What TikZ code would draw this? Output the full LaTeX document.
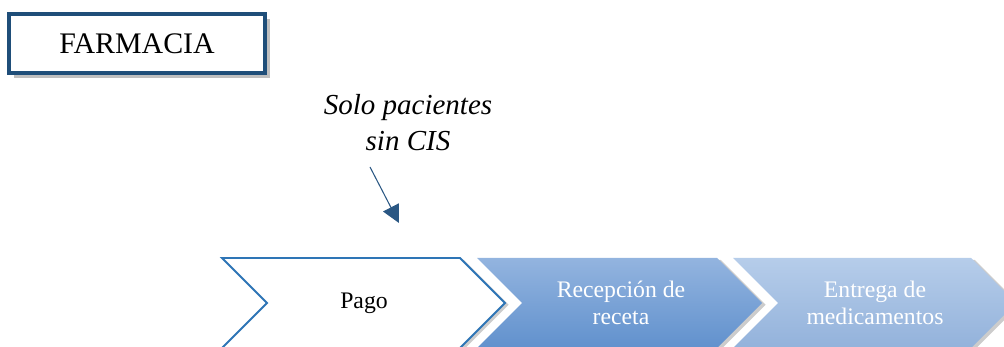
\documentclass[tikz,border=0pt]{standalone}
\usepackage{fontspec}
\setmainfont{Liberation Serif}
\usetikzlibrary{arrows.meta,shadows}
\definecolor{boxblue}{HTML}{1F4E79}
\definecolor{lineblue}{HTML}{2E75B6}
\definecolor{arrblue}{HTML}{2A5783}
\definecolor{ctwoT}{HTML}{93B4DF}
\definecolor{ctwoB}{HTML}{6191CD}
\definecolor{cthrT}{HTML}{B6CDEA}
\definecolor{cthrB}{HTML}{93B2DB}
\tikzset{
  titlebox/.style={draw=boxblue, line width=2.3pt, fill=white, minimum width=256*0.02cm, minimum height=59*0.02cm, inner sep=0pt,
     font=\fontsize{17}{20}\selectfont,
     drop shadow={shadow xshift=3pt, shadow yshift=-3pt, fill=black, opacity=0.25}},
  note/.style={font=\fontsize{16.5}{20.5}\selectfont\itshape, align=center},
  chevtext/.style={font=\fontsize{13.5}{15}\selectfont, align=center},
  chevshadow/.style={drop shadow={shadow xshift=2pt, shadow yshift=-1pt, fill=black, opacity=0.2}},
  notearrow/.style={draw=arrblue, line width=0.6pt, -{Triangle[length=10pt,width=10pt]}}
}
\begin{document}
\begin{tikzpicture}[x=0.02cm,y=-0.02cm]
\useasboundingbox (0,0) rectangle (1004,347);
\begin{scope}
\clip (0,0) rectangle (1004,347);
% chevron 3
\path[chevshadow, top color=cthrT, bottom color=cthrB] (733,258) -- (971,258) -- (1016,303) -- (971,348) -- (733,348) -- (778,303) -- cycle;
% chevron 2
\path[chevshadow, top color=ctwoT, bottom color=ctwoB] (477,258) -- (717,258) -- (762,303) -- (717,348) -- (477,348) -- (522,303) -- cycle;
% chevron 1
\path[chevshadow, fill=white, draw=lineblue, line width=1.1pt] (222,258) -- (460,258) -- (505,303) -- (460,348) -- (222,348) -- (267,303) -- cycle;
\end{scope}
\node[chevtext] (pago) at (364,303) {Pago};
\node[chevtext, text=white] (recep) at (621,303) {Recepción de\\receta};
\node[chevtext, text=white] (entrega) at (875,303) {Entrega de\\medicamentos};

\node[titlebox] (farm) at (137,43.5) {FARMACIA};
\node[note] (nota) at (408,123) {Solo pacientes\\sin CIS};
\coordinate (a1) at (370,167);
\coordinate (a2) at (399,223);
\draw[notearrow] (a1) -- (a2);
\end{tikzpicture}
\end{document}
